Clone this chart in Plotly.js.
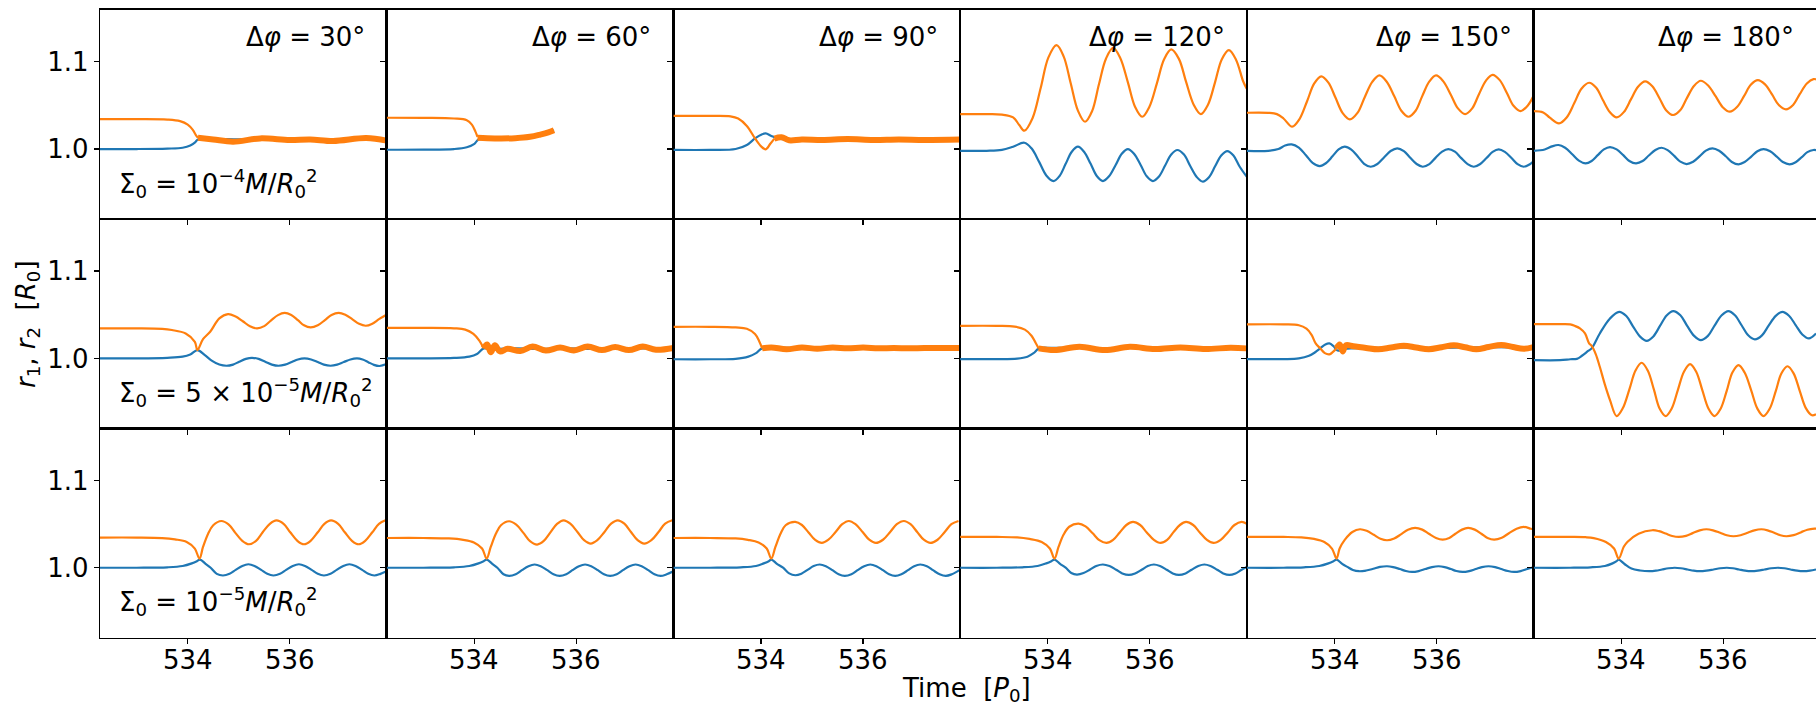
<!DOCTYPE html>
<html><head><meta charset="utf-8">
<script src="https://cdn.plot.ly/plotly-3.0.1.min.js"></script>
<style>html,body{margin:0;padding:0;background:#fff}#chart{width:1816px;height:706px}</style>
</head><body><div id="chart"></div>
<script>
// ---------- labels ----------
const phaseLabels = ['30', '60', '90', '120', '150', '180'];
const sigmaLabels = [
  'Σ<sub>0</sub> = 10<sup>−4</sup><i>M</i>/<i>R</i><sub>0</sub><sup>2</sup>',
  'Σ<sub>0</sub> = 5 × 10<sup>−5</sup><i>M</i>/<i>R</i><sub>0</sub><sup>2</sup>',
  'Σ<sub>0</sub> = 10<sup>−5</sup><i>M</i>/<i>R</i><sub>0</sub><sup>2</sup>'
];
const xTickVals = [534, 536];
const xTickText = ['534', '536'];
const yTickVals = [1.0, 1.1];
const yTickText = ['1.0', '1.1'];

// ---------- row a : Σ0 = 1e-4 ----------
const a1_blue_t = [532.28, 533.0, 533.6, 533.9, 534.05, 534.15, 534.2, 534.5, 535.0, 535.5, 536.0, 536.5, 537.0, 537.5, 537.9];
const a1_blue_r = [1.0, 1.0, 1.0005, 1.0015, 1.004, 1.008, 1.011, 1.0115, 1.011, 1.011, 1.011, 1.011, 1.011, 1.011, 1.010];
const a1_orange_t = [532.28, 533.0, 533.6, 533.85, 534.0, 534.1, 534.16, 534.2];
const a1_orange_r = [1.0344, 1.0343, 1.0338, 1.032, 1.028, 1.022, 1.016, 1.013];
const a1_band_t = [534.2, 534.5, 534.89, 535.42, 536.0, 536.4, 536.85, 537.5, 537.9];
const a1_band_r = [1.013, 1.011, 1.0084, 1.0122, 1.0103, 1.011, 1.0092, 1.0126, 1.0096];

const a2_blue_t = [532.28, 533.0, 533.6, 533.85, 534.0, 534.08, 534.3, 534.8, 535.2, 535.56];
const a2_blue_r = [0.9992, 0.9993, 1.0, 1.002, 1.006, 1.011, 1.0115, 1.012, 1.014, 1.0215];
const a2_orange_t = [532.28, 533.0, 533.6, 533.85, 533.95, 534.02, 534.06];
const a2_orange_r = [1.0359, 1.0357, 1.035, 1.033, 1.028, 1.020, 1.014];
const a2_band_t = [534.06, 534.4, 534.8, 535.09, 535.29, 535.45, 535.56];
const a2_band_r = [1.013, 1.0122, 1.0125, 1.014, 1.0165, 1.019, 1.0215];

const a3_blue_t = [532.28, 533.0, 533.5, 533.72, 533.88, 534.0, 534.09, 534.2, 534.35, 534.8, 535.5, 536.5, 537.9];
const a3_blue_r = [0.999, 0.999, 1.0, 1.0046, 1.0122, 1.0165, 1.018, 1.015, 1.012, 1.0115, 1.011, 1.011, 1.011];
const a3_orange_t = [532.28, 533.0, 533.4, 533.55, 533.72, 533.88, 534.0, 534.09, 534.18, 534.26];
const a3_orange_r = [1.0381, 1.038, 1.0375, 1.035, 1.0265, 1.0122, 1.003, 0.9997, 1.006, 1.012];
const a3_band_t = [534.26, 534.4, 534.55, 534.8, 535.2, 535.7, 536.2, 536.7, 537.2, 537.9];
const a3_band_r = [1.012, 1.0135, 1.010, 1.011, 1.0105, 1.0115, 1.0105, 1.011, 1.0105, 1.011];

const a4_blue_t = [532.28, 532.8, 533.1, 533.32, 533.54, 533.68, 533.83, 533.97, 534.11, 534.23, 534.35, 534.47, 534.59, 534.71, 534.84, 534.96, 535.08, 535.2, 535.33, 535.45, 535.57, 535.69, 535.82, 535.94, 536.06, 536.18, 536.3, 536.42, 536.54, 536.67, 536.79, 536.92, 537.04, 537.16, 537.28, 537.4, 537.52, 537.64, 537.76, 537.9];
const a4_blue_r = [0.998, 0.998, 0.999, 1.0027, 1.0072, 1.0008, 0.9853, 0.9697, 0.9633, 0.9691, 0.983, 0.9969, 1.0027, 0.9969, 0.983, 0.9691, 0.9633, 0.9687, 0.9817, 0.9946, 1.0, 0.9946, 0.9817, 0.9687, 0.9633, 0.9685, 0.9811, 0.9937, 0.9989, 0.9936, 0.9808, 0.9679, 0.9626, 0.9677, 0.9802, 0.9926, 0.9977, 0.9926, 0.980, 0.9683];
const a4_orange_t = [532.28, 532.8, 533.1, 533.32, 533.44, 533.54, 533.7, 533.86, 534.01, 534.17, 534.31, 534.45, 534.59, 534.73, 534.87, 535.0, 535.14, 535.28, 535.42, 535.57, 535.71, 535.85, 535.99, 536.14, 536.28, 536.42, 536.57, 536.71, 536.86, 537.0, 537.14, 537.28, 537.41, 537.55, 537.69, 537.83, 537.9];
const a4_orange_r = [1.0401, 1.040, 1.0395, 1.0363, 1.0275, 1.021, 1.0353, 1.070, 1.1048, 1.1191, 1.1063, 1.0752, 1.0441, 1.0313, 1.0437, 1.0737, 1.1036, 1.116, 1.1045, 1.0765, 1.0485, 1.037, 1.0483, 1.0756, 1.1029, 1.1142, 1.1034, 1.0772, 1.0509, 1.0401, 1.0508, 1.0768, 1.1027, 1.1134, 1.1025, 1.0777, 1.069];

const a5_blue_t = [532.28, 532.7, 532.9, 533.03, 533.16, 533.3, 533.44, 533.57, 533.71, 533.83, 533.96, 534.08, 534.2, 534.33, 534.46, 534.58, 534.71, 534.84, 534.97, 535.1, 535.23, 535.36, 535.48, 535.61, 535.73, 535.86, 535.98, 536.11, 536.23, 536.36, 536.48, 536.61, 536.73, 536.85, 536.98, 537.1, 537.22, 537.34, 537.47, 537.59, 537.71, 537.83, 537.9];
const a5_blue_r = [0.998, 0.998, 1.0, 1.004, 1.0053, 1.0017, 0.9929, 0.9841, 0.9805, 0.9837, 0.9916, 0.9995, 1.0027, 0.9993, 0.9912, 0.9831, 0.9797, 0.9828, 0.9903, 0.9977, 1.0008, 0.9977, 0.9903, 0.9828, 0.9797, 0.9827, 0.9899, 0.997, 1.0, 0.997, 0.9899, 0.9827, 0.9797, 0.9826, 0.9897, 0.9967, 0.9996, 0.9967, 0.9897, 0.9826, 0.9797, 0.9826, 0.9859];
const a5_orange_t = [532.28, 532.7, 532.87, 533.0, 533.17, 533.31, 533.46, 533.6, 533.74, 533.88, 534.02, 534.16, 534.3, 534.45, 534.59, 534.74, 534.88, 535.02, 535.17, 535.31, 535.45, 535.59, 535.72, 535.86, 535.99, 536.13, 536.28, 536.42, 536.56, 536.7, 536.83, 536.97, 537.1, 537.24, 537.38, 537.51, 537.65, 537.79, 537.9];
const a5_orange_r = [1.0416, 1.0415, 1.040, 1.035, 1.0256, 1.034, 1.0545, 1.0749, 1.0833, 1.0761, 1.0587, 1.0412, 1.034, 1.0414, 1.0592, 1.077, 1.0844, 1.0775, 1.0607, 1.0439, 1.037, 1.0439, 1.0607, 1.0775, 1.0844, 1.0779, 1.0623, 1.0466, 1.0401, 1.0467, 1.0626, 1.0785, 1.0851, 1.079, 1.0643, 1.0496, 1.0435, 1.050, 1.0607];

const a6_blue_t = [532.28, 532.5, 532.64, 532.77, 532.9, 533.04, 533.17, 533.3, 533.42, 533.54, 533.66, 533.78, 533.91, 534.04, 534.16, 534.29, 534.42, 534.54, 534.67, 534.79, 534.91, 535.04, 535.16, 535.28, 535.41, 535.54, 535.66, 535.79, 535.92, 536.05, 536.17, 536.3, 536.42, 536.55, 536.67, 536.79, 536.92, 537.05, 537.17, 537.3, 537.42, 537.54, 537.65, 537.77, 537.82];
const a6_blue_r = [0.998, 0.9995, 1.003, 1.0046, 1.0015, 0.9941, 0.9867, 0.9836, 0.9863, 0.993, 0.9996, 1.0023, 0.9996, 0.993, 0.9863, 0.9836, 0.9862, 0.9926, 0.9989, 1.0015, 0.9988, 0.9922, 0.9855, 0.9828, 0.9854, 0.9918, 0.9982, 1.0008, 0.9981, 0.9917, 0.9852, 0.9825, 0.9851, 0.9913, 0.9974, 1.0, 0.9974, 0.9913, 0.9851, 0.9825, 0.9849, 0.9907, 0.9965, 0.9989, 0.9987];
const a6_orange_t = [532.28, 532.47, 532.6, 532.78, 532.93, 533.08, 533.22, 533.37, 533.51, 533.64, 533.78, 533.91, 534.05, 534.19, 534.33, 534.47, 534.61, 534.75, 534.88, 535.02, 535.16, 535.29, 535.43, 535.56, 535.7, 535.85, 535.99, 536.13, 536.27, 536.41, 536.54, 536.68, 536.82, 536.96, 537.09, 537.23, 537.37, 537.5, 537.64, 537.77, 537.82];
const a6_orange_r = [1.0435, 1.042, 1.036, 1.0294, 1.0362, 1.0527, 1.0692, 1.076, 1.0702, 1.0562, 1.0421, 1.0363, 1.0423, 1.0569, 1.0715, 1.0775, 1.0719, 1.0583, 1.0446, 1.039, 1.0447, 1.0587, 1.0726, 1.0783, 1.0731, 1.0606, 1.048, 1.0428, 1.0481, 1.0609, 1.0737, 1.079, 1.0741, 1.0623, 1.0504, 1.0455, 1.0506, 1.0629, 1.0751, 1.0802, 1.0798];

// ---------- row b : Σ0 = 5e-5 ----------
const b1_blue_t = [532.28, 533.0, 533.6, 533.9, 534.05, 534.19, 534.33, 534.47, 534.62, 534.76, 534.89, 535.01, 535.14, 535.26, 535.39, 535.52, 535.65, 535.78, 535.91, 536.04, 536.16, 536.29, 536.42, 536.55, 536.67, 536.8, 536.93, 537.06, 537.19, 537.32, 537.43, 537.54, 537.65, 537.76, 537.9];
const b1_blue_r = [1.0, 1.0, 1.0007, 1.002, 1.0045, 1.0095, 1.004, 0.9975, 0.993, 0.9916, 0.9929, 0.9962, 0.9994, 1.0007, 0.9994, 0.9962, 0.9929, 0.9916, 0.9928, 0.9958, 0.9988, 1.0, 0.9988, 0.9958, 0.9928, 0.9916, 0.9928, 0.9958, 0.9988, 1.0, 0.9987, 0.9957, 0.9926, 0.9913, 0.9935];
const b1_orange_t = [532.28, 533.0, 533.5, 533.69, 533.96, 534.14, 534.19, 534.3, 534.44, 534.62, 534.79, 534.93, 535.08, 535.22, 535.36, 535.5, 535.63, 535.77, 535.9, 536.03, 536.16, 536.28, 536.41, 536.55, 536.69, 536.82, 536.96, 537.09, 537.23, 537.36, 537.49, 537.62, 537.75, 537.88];
const b1_orange_r = [1.0344, 1.0344, 1.0338, 1.0325, 1.0286, 1.019, 1.0095, 1.022, 1.0305, 1.0458, 1.0507, 1.0483, 1.0426, 1.0368, 1.0344, 1.037, 1.0433, 1.0496, 1.0522, 1.0498, 1.0439, 1.0379, 1.0355, 1.0379, 1.0439, 1.0498, 1.0522, 1.05, 1.0448, 1.0396, 1.0374, 1.0398, 1.045, 1.0495];

const b2_blue_t = [532.28, 533.0, 533.6, 533.9, 534.05, 534.18, 534.4, 534.8, 535.3, 535.8, 536.3, 536.8, 537.3, 537.9];
const b2_blue_r = [1.0, 1.0, 1.0005, 1.002, 1.005, 1.0115, 1.011, 1.0115, 1.011, 1.0115, 1.011, 1.0115, 1.0115, 1.0115];
const b2_orange_t = [532.28, 533.0, 533.6, 533.82, 533.98, 534.1, 534.18];
const b2_orange_r = [1.035, 1.035, 1.0345, 1.033, 1.028, 1.020, 1.0115];
const b2_band_t = [534.18, 534.25, 534.32, 534.4, 534.5, 534.65, 534.9, 535.14, 535.4, 535.68, 535.95, 536.22, 536.5, 536.76, 537.03, 537.3, 537.56, 537.9];
const b2_band_r = [1.0115, 1.016, 1.007, 1.015, 1.008, 1.011, 1.0085, 1.0135, 1.009, 1.0125, 1.009, 1.0135, 1.0095, 1.013, 1.0095, 1.0135, 1.010, 1.012];

const b3_blue_t = [532.28, 533.0, 533.5, 533.75, 533.9, 534.02, 534.3, 535.0, 536.0, 537.0, 537.9];
const b3_blue_r = [0.999, 0.999, 0.9995, 1.002, 1.006, 1.0115, 1.012, 1.012, 1.012, 1.012, 1.012];
const b3_orange_t = [532.28, 533.0, 533.5, 533.72, 533.88, 533.96, 534.02];
const b3_orange_r = [1.0362, 1.0362, 1.0355, 1.034, 1.028, 1.020, 1.0115];
const b3_band_t = [534.02, 534.2, 534.5, 534.8, 535.1, 535.4, 535.7, 536.0, 536.3, 536.6, 536.9, 537.2, 537.5, 537.9];
const b3_band_r = [1.0115, 1.0125, 1.0105, 1.0125, 1.011, 1.0125, 1.0115, 1.0125, 1.0115, 1.012, 1.0115, 1.012, 1.0118, 1.012];

const b4_blue_t = [532.28, 533.0, 533.4, 533.6, 533.72, 533.83, 534.1, 535.0, 536.0, 537.0, 537.9];
const b4_blue_r = [0.9992, 0.9992, 0.9998, 1.002, 1.006, 1.0115, 1.012, 1.0118, 1.012, 1.012, 1.012];
const b4_orange_t = [532.28, 533.0, 533.35, 533.55, 533.68, 533.76, 533.82];
const b4_orange_r = [1.0373, 1.0373, 1.0365, 1.033, 1.026, 1.018, 1.0115];
const b4_band_t = [533.82, 534.13, 534.62, 535.12, 535.61, 536.1, 536.6, 537.09, 537.58, 537.9];
const b4_band_r = [1.0115, 1.0095, 1.0133, 1.0095, 1.0133, 1.0107, 1.0126, 1.0107, 1.0122, 1.0115];

const b5_blue_t = [532.28, 533.0, 533.3, 533.5, 533.62, 533.72, 533.82, 533.9, 533.98, 534.06, 534.2, 534.6, 535.2, 536.0, 537.0, 537.9];
const b5_blue_r = [0.9992, 0.9992, 1.0, 1.003, 1.007, 1.0115, 1.016, 1.0172, 1.014, 1.009, 1.011, 1.012, 1.0125, 1.012, 1.013, 1.0125];
const b5_orange_t = [532.28, 533.0, 533.3, 533.45, 533.55, 533.63, 533.72, 533.81, 533.9, 533.97, 534.04];
const b5_orange_r = [1.039, 1.039, 1.038, 1.034, 1.027, 1.0172, 1.0115, 1.006, 1.0046, 1.0075, 1.0115];
const b5_band_t = [534.04, 534.1, 534.16, 534.22, 534.37, 534.62, 534.86, 535.11, 535.36, 535.6, 535.85, 536.1, 536.34, 536.56, 536.78, 537.02, 537.27, 537.5, 537.71, 537.9];
const b5_band_r = [1.0115, 1.016, 1.008, 1.015, 1.014, 1.012, 1.0105, 1.0125, 1.0145, 1.0125, 1.0105, 1.0128, 1.015, 1.0128, 1.0105, 1.013, 1.0155, 1.013, 1.011, 1.013];

const b6_blue_t = [532.28, 532.8, 533.0, 533.13, 533.23, 533.35, 533.42, 533.58, 533.78, 533.96, 534.1, 534.23, 534.37, 534.5, 534.63, 534.76, 534.89, 535.02, 535.16, 535.29, 535.43, 535.56, 535.7, 535.83, 535.97, 536.1, 536.23, 536.36, 536.49, 536.62, 536.76, 536.89, 537.03, 537.16, 537.29, 537.42, 537.55, 537.68, 537.82];
const b6_blue_r = [0.998, 0.998, 0.999, 0.9995, 1.003, 1.0085, 1.0115, 1.0286, 1.0458, 1.0534, 1.0486, 1.0368, 1.025, 1.0202, 1.0252, 1.0372, 1.0492, 1.0542, 1.0494, 1.0376, 1.0258, 1.021, 1.0258, 1.0376, 1.0494, 1.0542, 1.0495, 1.038, 1.0265, 1.0218, 1.0264, 1.0376, 1.0488, 1.0534, 1.0489, 1.0382, 1.0274, 1.0229, 1.0286];
const b6_orange_t = [532.28, 532.8, 533.0, 533.1, 533.19, 533.29, 533.37, 533.42, 533.5, 533.58, 533.68, 533.78, 533.91, 534.03, 534.16, 534.28, 534.4, 534.52, 534.64, 534.75, 534.87, 534.99, 535.11, 535.23, 535.35, 535.47, 535.59, 535.71, 535.83, 535.95, 536.07, 536.18, 536.3, 536.42, 536.55, 536.67, 536.79, 536.91, 537.03, 537.14, 537.26, 537.38, 537.5, 537.62, 537.74, 537.82];
const b6_orange_r = [1.0393, 1.0393, 1.039, 1.037, 1.0344, 1.0286, 1.0172, 1.0144, 1.005, 0.9904, 0.970, 0.9522, 0.9339, 0.9428, 0.9645, 0.9861, 0.995, 0.9861, 0.9645, 0.9428, 0.9339, 0.9426, 0.9637, 0.9848, 0.9935, 0.9848, 0.9637, 0.9426, 0.9339, 0.9424, 0.9631, 0.9838, 0.9923, 0.9838, 0.9631, 0.9424, 0.9339, 0.9422, 0.9625, 0.9827, 0.991, 0.9828, 0.9629, 0.943, 0.9348, 0.936];

// ---------- row c : Σ0 = 1e-5 ----------
const c1_blue_t = [532.28, 533.0, 533.6, 533.9, 534.08, 534.18, 534.24, 534.35, 534.45, 534.57, 534.69, 534.82, 534.94, 535.07, 535.19, 535.31, 535.44, 535.56, 535.68, 535.81, 535.93, 536.06, 536.18, 536.3, 536.43, 536.55, 536.67, 536.8, 536.92, 537.05, 537.17, 537.29, 537.42, 537.54, 537.66, 537.78, 537.9];
const c1_blue_r = [1.0, 1.0, 1.0005, 1.002, 1.005, 1.0075, 1.0094, 1.0045, 1.0, 0.993, 0.9911, 0.993, 0.9975, 1.0021, 1.004, 1.0021, 0.9975, 0.993, 0.9911, 0.993, 0.9975, 1.0021, 1.004, 1.0021, 0.9975, 0.993, 0.9911, 0.993, 0.9975, 1.0021, 1.004, 1.0021, 0.9975, 0.993, 0.9911, 0.993, 0.996];
const c1_orange_t = [532.28, 533.0, 533.5, 533.75, 533.98, 534.14, 534.23, 534.3, 534.4, 534.5, 534.66, 534.8, 534.93, 535.07, 535.2, 535.34, 535.47, 535.61, 535.74, 535.88, 536.01, 536.15, 536.28, 536.41, 536.55, 536.68, 536.81, 536.95, 537.08, 537.22, 537.35, 537.48, 537.62, 537.75, 537.88];
const c1_orange_r = [1.0346, 1.0346, 1.034, 1.0325, 1.0296, 1.022, 1.0105, 1.0238, 1.039, 1.0487, 1.0536, 1.0497, 1.0403, 1.0308, 1.0269, 1.0309, 1.0407, 1.0504, 1.0544, 1.0504, 1.0407, 1.0309, 1.0269, 1.0309, 1.0407, 1.0504, 1.0544, 1.0504, 1.0407, 1.0309, 1.0269, 1.0309, 1.0407, 1.0504, 1.0544];

const c2_blue_t = [532.28, 533.0, 533.6, 533.9, 534.08, 534.18, 534.24, 534.35, 534.45, 534.57, 534.68, 534.81, 534.93, 535.06, 535.18, 535.3, 535.43, 535.55, 535.67, 535.8, 535.92, 536.05, 536.17, 536.29, 536.42, 536.54, 536.66, 536.79, 536.91, 537.04, 537.16, 537.28, 537.41, 537.53, 537.65, 537.77, 537.9];
const c2_blue_r = [1.0, 1.0, 1.0005, 1.002, 1.005, 1.0075, 1.0094, 1.0045, 1.0, 0.9925, 0.9906, 0.9925, 0.9972, 1.0018, 1.0037, 1.0018, 0.9972, 0.9925, 0.9906, 0.9925, 0.9972, 1.0018, 1.0037, 1.0018, 0.9972, 0.9925, 0.9906, 0.9925, 0.9972, 1.0018, 1.0037, 1.0018, 0.9972, 0.9925, 0.9906, 0.9925, 0.996];
const c2_orange_t = [532.28, 533.0, 533.5, 533.78, 533.99, 534.15, 534.24, 534.32, 534.42, 534.52, 534.68, 534.82, 534.96, 535.09, 535.23, 535.36, 535.49, 535.62, 535.75, 535.88, 536.02, 536.15, 536.28, 536.41, 536.55, 536.68, 536.81, 536.94, 537.07, 537.2, 537.33, 537.47, 537.61, 537.74, 537.88];
const c2_orange_r = [1.0341, 1.0341, 1.0336, 1.032, 1.029, 1.022, 1.0105, 1.0238, 1.039, 1.0487, 1.0533, 1.0494, 1.040, 1.0305, 1.0266, 1.0307, 1.0405, 1.0503, 1.0544, 1.0505, 1.041, 1.0316, 1.0277, 1.0316, 1.041, 1.0505, 1.0544, 1.0505, 1.041, 1.0316, 1.0277, 1.0316, 1.041, 1.0505, 1.0544];

const c3_blue_t = [532.28, 533.0, 533.6, 533.9, 534.05, 534.15, 534.2, 534.31, 534.43, 534.55, 534.67, 534.79, 534.91, 535.03, 535.15, 535.27, 535.4, 535.52, 535.64, 535.77, 535.89, 536.02, 536.14, 536.26, 536.39, 536.51, 536.63, 536.75, 536.88, 537.0, 537.12, 537.25, 537.37, 537.5, 537.62, 537.74, 537.9];
const c3_blue_r = [1.0, 1.0, 1.0005, 1.002, 1.005, 1.0075, 1.0094, 1.0045, 1.0, 0.9935, 0.9914, 0.9932, 0.9975, 1.0019, 1.0037, 1.0018, 0.9972, 0.9925, 0.9906, 0.9925, 0.9972, 1.0018, 1.0037, 1.0018, 0.9972, 0.9925, 0.9906, 0.9925, 0.9972, 1.0018, 1.0037, 1.0018, 0.9972, 0.9925, 0.9906, 0.9925, 0.9975];
const c3_orange_t = [532.28, 533.0, 533.5, 533.74, 533.95, 534.11, 534.2, 534.28, 534.38, 534.48, 534.67, 534.8, 534.93, 535.06, 535.19, 535.32, 535.46, 535.59, 535.72, 535.85, 535.99, 536.12, 536.25, 536.39, 536.53, 536.66, 536.8, 536.93, 537.06, 537.19, 537.32, 537.46, 537.6, 537.73, 537.87];
const c3_orange_r = [1.0341, 1.0341, 1.0336, 1.032, 1.029, 1.022, 1.0105, 1.0238, 1.039, 1.0487, 1.0525, 1.049, 1.0405, 1.0319, 1.0284, 1.0321, 1.041, 1.0499, 1.0536, 1.0499, 1.041, 1.0321, 1.0284, 1.0321, 1.041, 1.0499, 1.0536, 1.0499, 1.041, 1.0321, 1.0284, 1.0321, 1.041, 1.0499, 1.0536];

const c4_blue_t = [532.28, 533.0, 533.5, 533.8, 533.97, 534.07, 534.13, 534.24, 534.35, 534.46, 534.57, 534.7, 534.83, 534.95, 535.08, 535.21, 535.34, 535.46, 535.59, 535.71, 535.84, 535.96, 536.08, 536.2, 536.33, 536.45, 536.57, 536.7, 536.82, 536.95, 537.07, 537.19, 537.32, 537.44, 537.56, 537.68, 537.8, 537.9];
const c4_blue_r = [1.0, 1.0, 1.0005, 1.002, 1.005, 1.0075, 1.0094, 1.0045, 1.0, 0.994, 0.9922, 0.9939, 0.998, 1.002, 1.0037, 1.0019, 0.9977, 0.9935, 0.9917, 0.9935, 0.9977, 1.0019, 1.0037, 1.0019, 0.9977, 0.9935, 0.9917, 0.9935, 0.9977, 1.0019, 1.0037, 1.0019, 0.9977, 0.9935, 0.9917, 0.9935, 0.9977, 1.001];
const c4_orange_t = [532.28, 533.0, 533.4, 533.64, 533.88, 534.04, 534.13, 534.21, 534.31, 534.42, 534.6, 534.74, 534.88, 535.01, 535.15, 535.28, 535.41, 535.54, 535.67, 535.81, 535.94, 536.08, 536.21, 536.34, 536.46, 536.59, 536.71, 536.85, 536.98, 537.12, 537.25, 537.39, 537.53, 537.66, 537.8, 537.9];
const c4_orange_r = [1.0353, 1.0353, 1.0348, 1.033, 1.0295, 1.022, 1.0105, 1.0238, 1.038, 1.047, 1.0506, 1.0474, 1.0395, 1.0316, 1.0284, 1.0319, 1.0405, 1.049, 1.0525, 1.049, 1.0405, 1.0319, 1.0284, 1.0319, 1.0405, 1.049, 1.0525, 1.049, 1.0405, 1.0319, 1.0284, 1.0319, 1.0405, 1.049, 1.0525, 1.0505];

const c5_blue_t = [532.28, 533.0, 533.4, 533.7, 533.88, 533.98, 534.04, 534.15, 534.25, 534.36, 534.48, 534.62, 534.76, 534.89, 535.03, 535.15, 535.28, 535.4, 535.52, 535.65, 535.78, 535.91, 536.04, 536.16, 536.28, 536.39, 536.51, 536.64, 536.77, 536.89, 537.02, 537.15, 537.27, 537.4, 537.52, 537.65, 537.78, 537.9];
const c5_blue_r = [1.0, 1.0, 1.0005, 1.002, 1.005, 1.0075, 1.0094, 1.0045, 1.001, 0.9975, 0.996, 0.9968, 0.9988, 1.0009, 1.0017, 1.0007, 0.9985, 0.9962, 0.9952, 0.9962, 0.9985, 1.0007, 1.0017, 1.0007, 0.9985, 0.9962, 0.9952, 0.9962, 0.9985, 1.0007, 1.0017, 1.0007, 0.9985, 0.9962, 0.9952, 0.9962, 0.9985, 1.0005];
const c5_orange_t = [532.28, 533.0, 533.35, 533.6, 533.8, 533.95, 534.04, 534.1, 534.2, 534.35, 534.5, 534.63, 534.77, 534.9, 535.03, 535.17, 535.31, 535.44, 535.58, 535.72, 535.85, 535.99, 536.12, 536.25, 536.37, 536.5, 536.62, 536.75, 536.88, 537.0, 537.13, 537.28, 537.42, 537.57, 537.71, 537.85, 537.9];
const c5_orange_r = [1.0353, 1.0353, 1.0348, 1.033, 1.0295, 1.022, 1.0105, 1.022, 1.032, 1.041, 1.0441, 1.0423, 1.0378, 1.0333, 1.0315, 1.0336, 1.0386, 1.0435, 1.0456, 1.0437, 1.039, 1.0342, 1.0323, 1.0342, 1.039, 1.0437, 1.0456, 1.0437, 1.039, 1.0342, 1.0323, 1.0344, 1.0396, 1.0447, 1.0468, 1.0447, 1.044];

const c6_blue_t = [532.28, 533.0, 533.4, 533.68, 533.83, 533.91, 533.95, 534.07, 534.2, 534.37, 534.55, 534.68, 534.8, 534.93, 535.05, 535.17, 535.3, 535.42, 535.54, 535.67, 535.81, 535.94, 536.07, 536.19, 536.31, 536.43, 536.55, 536.68, 536.81, 536.94, 537.07, 537.2, 537.32, 537.45, 537.57, 537.7, 537.82];
const c6_blue_r = [1.0, 1.0, 1.0005, 1.002, 1.005, 1.0075, 1.0094, 1.004, 0.999, 0.9968, 0.996, 0.9966, 0.998, 0.9994, 1.0, 0.9994, 0.998, 0.9966, 0.996, 0.9966, 0.998, 0.9994, 1.0, 0.9994, 0.998, 0.9966, 0.996, 0.9966, 0.998, 0.9994, 1.0, 0.9994, 0.998, 0.9966, 0.996, 0.9966, 0.998];
const c6_orange_t = [532.28, 533.0, 533.3, 533.46, 533.7, 533.86, 533.95, 534.05, 534.12, 534.34, 534.61, 534.74, 534.87, 535.0, 535.13, 535.27, 535.4, 535.54, 535.67, 535.8, 535.94, 536.07, 536.2, 536.34, 536.48, 536.61, 536.75, 536.87, 537.0, 537.12, 537.24, 537.38, 537.52, 537.65, 537.79, 537.82];
const c6_orange_r = [1.0353, 1.0353, 1.035, 1.034, 1.0295, 1.022, 1.0105, 1.024, 1.0296, 1.039, 1.043, 1.0419, 1.0392, 1.0364, 1.0353, 1.0366, 1.0397, 1.0428, 1.0441, 1.0429, 1.0401, 1.0373, 1.0361, 1.0373, 1.0401, 1.0429, 1.0441, 1.0429, 1.0401, 1.0373, 1.0361, 1.0374, 1.0405, 1.0436, 1.0449, 1.0449];

// ---------- panel table (built from the arrays above) ----------
const panels = [
  [a1_blue_t, a1_blue_r, a1_orange_t, a1_orange_r, a1_band_t, a1_band_r],
  [a2_blue_t, a2_blue_r, a2_orange_t, a2_orange_r, a2_band_t, a2_band_r],
  [a3_blue_t, a3_blue_r, a3_orange_t, a3_orange_r, a3_band_t, a3_band_r],
  [a4_blue_t, a4_blue_r, a4_orange_t, a4_orange_r, null, null],
  [a5_blue_t, a5_blue_r, a5_orange_t, a5_orange_r, null, null],
  [a6_blue_t, a6_blue_r, a6_orange_t, a6_orange_r, null, null],
  [b1_blue_t, b1_blue_r, b1_orange_t, b1_orange_r, null, null],
  [b2_blue_t, b2_blue_r, b2_orange_t, b2_orange_r, b2_band_t, b2_band_r],
  [b3_blue_t, b3_blue_r, b3_orange_t, b3_orange_r, b3_band_t, b3_band_r],
  [b4_blue_t, b4_blue_r, b4_orange_t, b4_orange_r, b4_band_t, b4_band_r],
  [b5_blue_t, b5_blue_r, b5_orange_t, b5_orange_r, b5_band_t, b5_band_r],
  [b6_blue_t, b6_blue_r, b6_orange_t, b6_orange_r, null, null],
  [c1_blue_t, c1_blue_r, c1_orange_t, c1_orange_r, null, null],
  [c2_blue_t, c2_blue_r, c2_orange_t, c2_orange_r, null, null],
  [c3_blue_t, c3_blue_r, c3_orange_t, c3_orange_r, null, null],
  [c4_blue_t, c4_blue_r, c4_orange_t, c4_orange_r, null, null],
  [c5_blue_t, c5_blue_r, c5_orange_t, c5_orange_r, null, null],
  [c6_blue_t, c6_blue_r, c6_orange_t, c6_orange_r, null, null]
];

// ---------- geometry / style ----------
const W = 1816, H = 706;
const LEFT = 100, COLW = 286.7;
const ROWS = [[9.5, 218.8], [218.8, 428.2], [428.2, 637.5]];
const BLUE = '#1f77b4', ORANGE = '#ff7f0e';
const FONT = 'DejaVu Sans, Liberation Sans, sans-serif';
const TXT = {family: FONT, size: 26, color: '#000'};
const lineStyle = (c, w) => ({color: c, width: w, shape: 'spline', smoothing: 1.0});

const traces = [];
const layout = {
  width: W, height: H, margin: {l: 0, r: 0, t: 0, b: 0},
  paper_bgcolor: '#fff', plot_bgcolor: '#fff', showlegend: false,
  font: TXT, annotations: []
};

panels.forEach((p, k) => {
  const r = Math.floor(k / 6), c = k % 6;
  const id = k === 0 ? '' : String(k + 1);
  const xa = 'x' + id, ya = 'y' + id;
  const x0 = LEFT + c * COLW;
  const x1 = Math.min(W, x0 + COLW);
  const xRangeEnd = 532.28 + (x1 - x0) / 51;
  layout['xaxis' + id] = {
    domain: [x0 / W, x1 / W], range: [532.28, xRangeEnd], anchor: ya,
    showgrid: false, zeroline: false, showline: true, mirror: true,
    linecolor: '#000', linewidth: 1.3, ticks: 'outside', ticklen: 5, tickwidth: 1.3, tickcolor: '#000',
    tickvals: xTickVals, ticktext: xTickText, showticklabels: false,
    tickfont: TXT, fixedrange: true
  };
  layout['yaxis' + id] = {
    domain: [1 - ROWS[r][1] / H, 1 - ROWS[r][0] / H], range: [0.92, 1.16], anchor: xa,
    showgrid: false, zeroline: false, showline: true, mirror: c < 5,
    linecolor: '#000', linewidth: 1.3, ticks: 'outside', ticklen: 5, tickwidth: 1.3, tickcolor: '#000',
    tickvals: yTickVals, ticktext: yTickText, showticklabels: c === 0,
    tickfont: TXT, fixedrange: true
  };
  traces.push({x: p[0], y: p[1], xaxis: xa, yaxis: ya, type: 'scatter', mode: 'lines', line: lineStyle(BLUE, 2.2), hoverinfo: 'skip'});
  traces.push({x: p[2], y: p[3], xaxis: xa, yaxis: ya, type: 'scatter', mode: 'lines', line: lineStyle(ORANGE, 2.2), hoverinfo: 'skip'});
  if (p[4]) {
    traces.push({x: p[4], y: p[5], xaxis: xa, yaxis: ya, type: 'scatter', mode: 'lines', line: lineStyle(ORANGE, 6), hoverinfo: 'skip'});
  }
  // bottom-row tick labels placed on the axis scale
  if (r === 2) {
    xTickVals.forEach((v, i) => layout.annotations.push({
      xref: xa, yref: 'paper', x: v, y: 1 - 660 / H, xanchor: 'center', yanchor: 'middle',
      showarrow: false, text: xTickText[i], font: TXT
    }));
  }
  if (r === 0) {
    layout.annotations.push({
      xref: xa + ' domain', yref: ya + ' domain', x: 1 - 20 / COLW, y: 1 - (37 - 9.5) / 209.3,
      xanchor: 'right', yanchor: 'middle', showarrow: false,
      text: 'Δ<i>φ</i> = ' + phaseLabels[c] + '°', font: TXT
    });
  }
  if (c === 0) {
    layout.annotations.push({
      xref: xa + ' domain', yref: ya + ' domain', x: 16.7 / COLW, y: 0.17,
      xanchor: 'left', yanchor: 'middle', showarrow: false,
      text: sigmaLabels[r], font: TXT
    });
  }
});

layout.annotations.push({
  xref: 'paper', yref: 'paper', x: 967 / W, y: 1 - 689 / H, xanchor: 'center', yanchor: 'middle',
  showarrow: false, text: 'Time  [<i>P</i><sub>0</sub>]', font: TXT
});
layout.annotations.push({
  xref: 'paper', yref: 'paper', x: 27 / W, y: 1 - 324 / H, xanchor: 'center', yanchor: 'middle',
  textangle: -90, showarrow: false,
  text: '<i>r</i><sub>1</sub>, <i>r</i><sub>2</sub>  [<i>R</i><sub>0</sub>]', font: TXT
});

Plotly.newPlot('chart', traces, layout, {displayModeBar: false, staticPlot: true});
</script></body></html>
